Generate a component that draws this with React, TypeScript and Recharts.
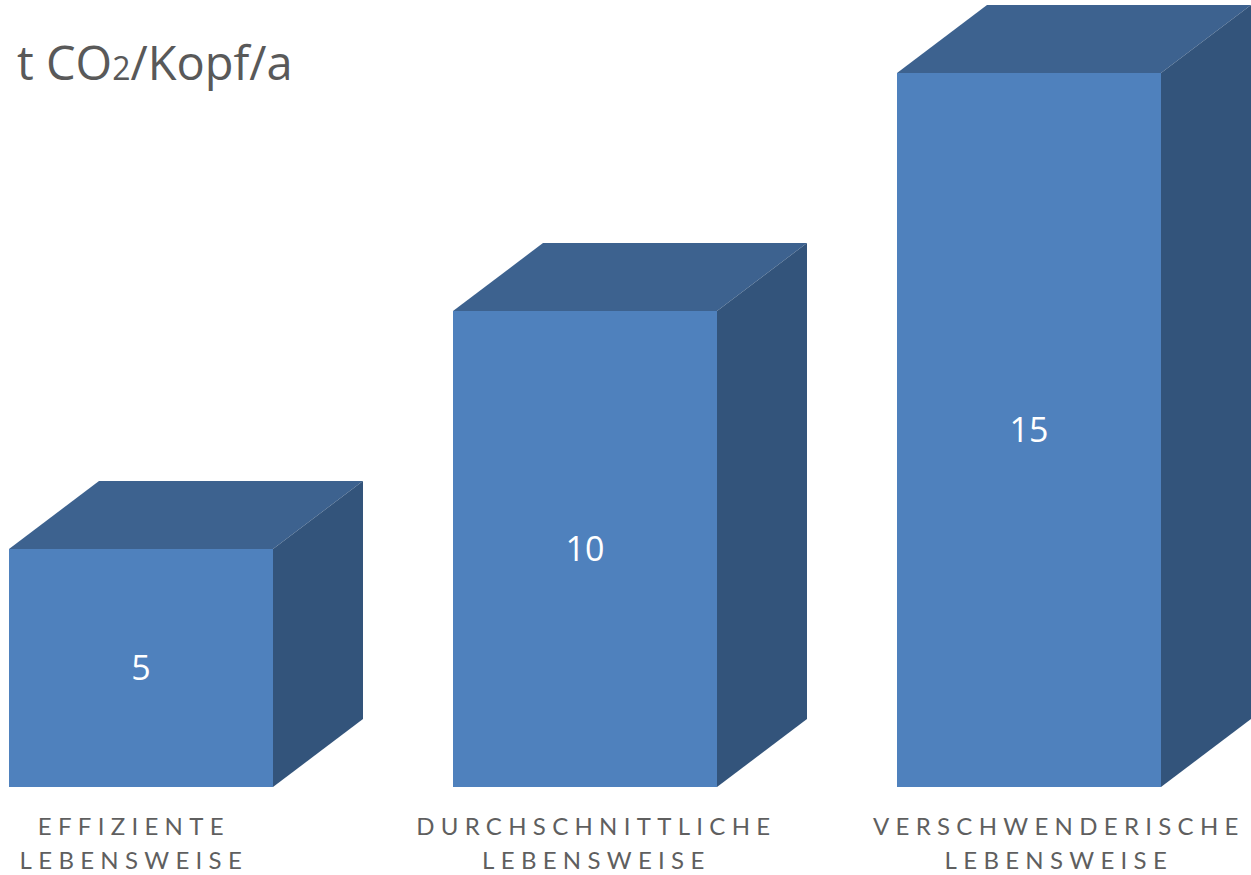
import React from "react";
import { BarChart, Bar, XAxis, YAxis, LabelList } from "recharts";

const categories = ["EFFIZIENTE LEBENSWEISE", "DURCHSCHNITTLICHE LEBENSWEISE", "VERSCHWENDERISCHE LEBENSWEISE"];
const emissions = [5, 10, 15];

const chartData = categories.map((name, i) => ({ name, value: emissions[i] }));

const FRONT = "#4F81BD";
const TOP = "#3D628F";
const SIDE = "#33547B";
const DEPTH_X = 90;
const DEPTH_Y = 68;

const Box3D = (props: any) => {
    const { x, y, width, height } = props;
    const r = x + width;
    const b = y + height;
    return (
        <g>
            <polygon
                points={`${x},${y} ${x + DEPTH_X},${y - DEPTH_Y} ${r + DEPTH_X},${y - DEPTH_Y} ${r},${y}`}
                fill={TOP}
            />
            <polygon
                points={`${r},${y} ${r + DEPTH_X},${y - DEPTH_Y} ${r + DEPTH_X},${b - DEPTH_Y} ${r},${b}`}
                fill={SIDE}
            />
            <rect x={x} y={y} width={width} height={height} fill={FRONT} />
        </g>
    );
};

const CategoryTick = (props: any) => {
    const { x, y, payload, index } = props;
    const words = String(payload.value).split(" ");
    // labels sit a bit off the bar centres in the original
    const cx = x + (index - 0.55) * 18.5 + 3;
    return (
        <text
            x={cx}
            y={y}
            textAnchor="middle"
            fill="#5f5f5f"
            fontSize={24}
            letterSpacing={6.3}
            fontFamily="Lato, 'Open Sans', sans-serif"
        >
            <tspan x={cx} dy={48}>{words[0]}</tspan>
            <tspan x={cx} dy={34}>{words[1]}</tspan>
        </text>
    );
};

export default function App() {
    return (
        <div style={{ position: "absolute", left: 0, top: 0, width: 1251, height: 875, overflow: "hidden", background: "#fff" }}>
            <div style={{ position: "absolute", left: -81, top: 0 }}>
                <BarChart width={1332} height={875} data={chartData} margin={{ top: 73, right: 0, left: 0, bottom: 0 }}>
                    <XAxis
                        dataKey="name"
                        height={88}
                        axisLine={false}
                        tickLine={false}
                        tickSize={0}
                        tickMargin={0}
                        interval={0}
                        tick={<CategoryTick />}
                    />
                    <YAxis hide domain={[0, 15]} />
                    <Bar dataKey="value" barSize={264} shape={<Box3D />} isAnimationActive={false}>
                        <LabelList
                            dataKey="value"
                            position="center"
                            fill="#ffffff"
                            fontSize={34}
                            fontFamily="'Open Sans', sans-serif"
                        />
                    </Bar>
                </BarChart>
            </div>
            <svg width={400} height={110} style={{ position: "absolute", left: 0, top: 0 }}>
                <text x={17} y={80} fill="#595959" fontSize={47} fontFamily="'Open Sans', sans-serif">
                    t CO<tspan fontSize={32}>2</tspan>/Kopf/a
                </text>
            </svg>
        </div>
    );
}
